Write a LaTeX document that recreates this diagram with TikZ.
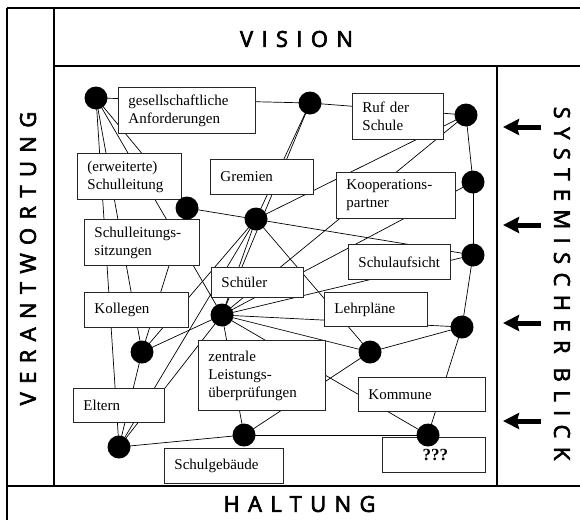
\documentclass[tikz,border=0pt]{standalone}
\usepackage{fontspec}
\setmainfont{Liberation Serif}
\newfontfamily\headfont[LetterSpace=38,FakeBold=3]{Open Sans}
\usetikzlibrary{arrows.meta}
\pgfdeclarelayer{bg}
\pgfsetlayers{bg,main}
\newcommand{\nohyph}{\hyphenpenalty=10000\relax\exhyphenpenalty=10000\relax}
\begin{document}
\begin{tikzpicture}[x=1pt,y=-1pt,
  box/.style={draw=black!85, fill=white, line width=0.9pt, anchor=north west, inner xsep=10pt, inner ysep=0pt, align=left,
    font=\fontsize{15}{18}\selectfont, execute at begin node=\nohyph},
  dot/.style={circle, fill=black, inner sep=0pt, minimum size=23pt},
  link/.style={line width=0.7pt},
  frame/.style={line width=1.2pt},
  head/.style={font=\headfont\fontsize{22}{26}\selectfont, inner sep=0pt},
  sysarrow/.style={line width=5pt, -{Stealth[length=16pt,width=16pt,inset=2pt]}}
]
\useasboundingbox (0,0) rectangle (580,520);

% frame
\draw[frame] (7,8) -- (580,8);
\draw[frame] (7,8) -- (7,520);
\draw[frame] (54,8) -- (54,486);
\draw[frame] (54,66) -- (580,66);
\draw[frame] (497,66) -- (497,486);
\draw[frame] (7,486) -- (580,486);

% headings
\node[head] (vision) at (296.5,39) {VISION};
\node[head] (haltung) at (299.5,504) {HALTUNG};
\node[head, rotate=90] (verant) at (28,258.5) {VERANTWORTUNG};
\node[head, rotate=-90] (system) at (562,283.5) {SYSTEMISCHER BLICK};

% arrows
\foreach \i/\y in {1/127,2/225,3/323,4/421}{
  \coordinate (as\i) at (541,\y);
  \coordinate (ae\i) at (503,\y);
  \draw[sysarrow] (as\i) -- (ae\i);
}

% boxes
\node[box, text width=117pt, minimum height=46pt] (b1) at (118,87) {gesellschaftliche\\Anforderungen};
\node[box, text width=71pt, minimum height=46pt] (b2) at (352,93) {Ruf der\\Schule};
\node[box, text width=84pt, minimum height=46pt] (b3) at (77,153) {(erweiterte)\\Schulleitung};
\node[box, text width=83pt, minimum height=35pt] (b4) at (210,159) {Gremien};
\node[box, text width=99pt, minimum height=46pt] (b5) at (336,172) {Kooperations-\\partner};
\node[box, text width=95pt, minimum height=46pt] (b6) at (84,219) {Schulleitungs-\\sitzungen};
\node[box, text width=82pt, minimum height=35pt] (b7) at (348,244) {Schulaufsicht};
\node[box, text width=72pt, minimum height=30pt] (b8) at (211,267) {Schüler};
\node[box, text width=84pt, minimum height=35pt] (b9) at (84,292) {Kollegen};
\node[box, text width=83pt, minimum height=34pt] (b10) at (324,292) {Lehrpläne};
\node[box, text width=107pt, minimum height=70pt] (b11) at (198,340) {zentrale\\Leistungs-\\überprüfungen};
\node[box, text width=107pt, minimum height=34pt] (b12) at (358,377) {Kommune};
\node[box, text width=71pt, minimum height=34pt] (b13) at (73,388) {Eltern};
\node[box, text width=99pt, minimum height=35pt] (b14) at (164,448) {Schulgebäude};
\node[box, text width=83pt, minimum height=35pt, align=center, font=\fontsize{17}{18}\selectfont\bfseries] (b15) at (382,437) {\,???};

% dots
\node[dot] (d1) at (96,98) {};
\node[dot] (d2) at (310,103) {};
\node[dot] (d3) at (466,115) {};
\node[dot] (d4) at (473,182) {};
\node[dot] (d5) at (187,208) {};
\node[dot] (d6) at (256,219) {};
\node[dot] (d7) at (473,255) {};
\node[dot] (d8) at (222,315) {};
\node[dot] (d9) at (462,327) {};
\node[dot] (d10) at (370,352) {};
\node[dot] (d11) at (142,352) {};
\node[dot] (d12) at (119,447) {};
\node[dot] (d13) at (244,435) {};
\node[dot] (d14) at (428,435) {};

% connectors (behind boxes and dots)
\begin{pgfonlayer}{bg}
\foreach \a/\b in {d1/d2,d2/d3,d3/d4,d4/d7,d7/d9,d9/d14,d13/d14,d12/d13,
  d1/d5,d1/d8,d1/d11,d1/d12,d2/d6,d2/d8,d3/d6,d3/d8,d4/d8,d5/d7,d5/d11,
  d6/d8,d6/d10,d6/d11,d6/d12,d7/d8,d8/d9,d8/d10,d8/d11,d8/d12,d8/d13,d8/d14,
  d9/d10,d10/d13,d11/d12}
  \draw[link] (\a.center) -- (\b.center);
\end{pgfonlayer}
\end{tikzpicture}
\end{document}
